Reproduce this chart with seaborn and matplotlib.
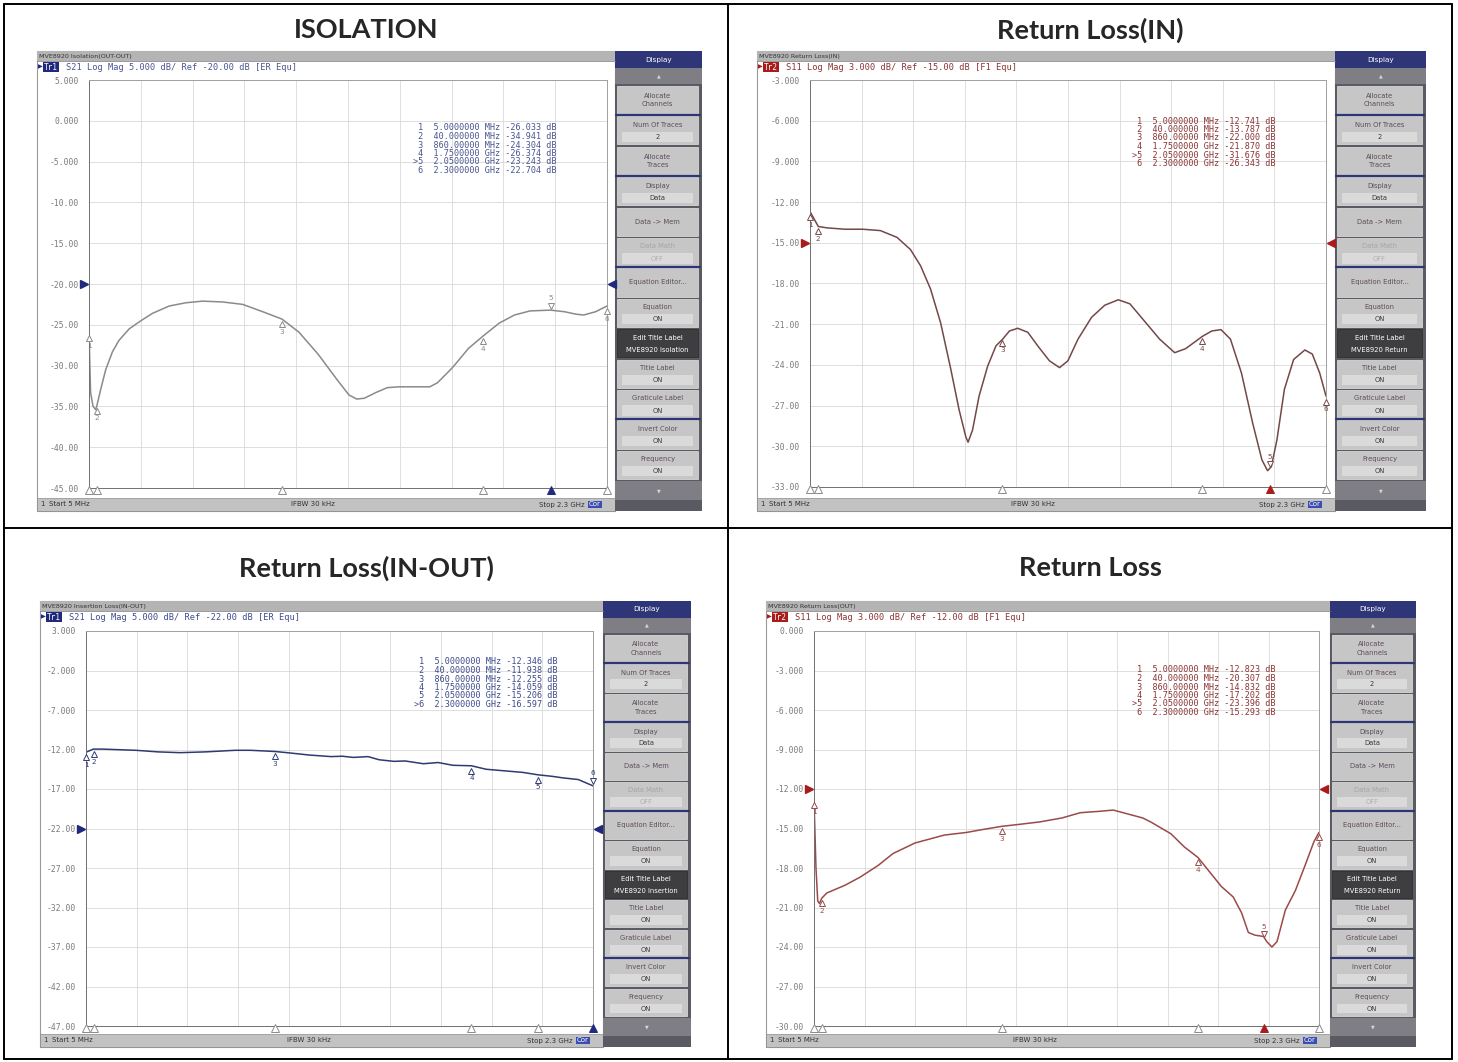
import numpy as np
import matplotlib
matplotlib.use('Agg')
import matplotlib.pyplot as plt
import matplotlib.transforms as mtrans
from matplotlib.patches import Rectangle
import seaborn as sns

sns.set_style('white')
plt.rcParams['font.family'] = ['DejaVu Sans']

W, H = 1458, 1062

# marker frequencies (MHz), same six markers on every screen
marker_freq = [5, 40, 860, 1750, 2050, 2300]

# ISOLATION, S21 (OUT-OUT)
iso_freq = [5, 12, 23, 35, 40, 57, 79, 109, 138, 183, 235, 286, 360, 434, 508, 597,
            686, 775, 860, 935, 1020, 1106, 1157, 1191, 1225, 1276, 1327, 1379, 1447,
            1515, 1549, 1617, 1686, 1750, 1822, 1890, 1959, 2050, 2112, 2163, 2197,
            2249, 2300]
iso_db = [-26.0, -33.3, -35.0, -35.4, -34.9, -32.9, -30.5, -28.3, -26.9, -25.5,
          -24.5, -23.6, -22.7, -22.3, -22.1, -22.2, -22.5, -23.4, -24.3, -25.9,
          -28.6, -31.8, -33.6, -34.1, -34.0, -33.3, -32.7, -32.6, -32.6, -32.6,
          -32.1, -30.2, -27.9, -26.4, -24.8, -23.8, -23.3, -23.2, -23.4, -23.7,
          -23.8, -23.4, -22.7]
iso_marker_db = [-26.033, -34.941, -24.304, -26.374, -23.243, -22.704]

# Return Loss(IN), S11
rlin_freq = [5, 42, 81, 161, 240, 318, 392, 452, 497, 541, 586, 631, 668, 698, 708,
             728, 757, 795, 832, 862, 892, 929, 974, 1018, 1070, 1115, 1152, 1197,
             1257, 1316, 1376, 1428, 1494, 1560, 1627, 1676, 1750, 1792, 1833, 1875,
             1924, 1974, 2015, 2040, 2057, 2082, 2115, 2156, 2206, 2239, 2272, 2300]
rlin_db = [-12.7, -13.8, -13.9, -14.0, -14.0, -14.1, -14.6, -15.5, -16.7, -18.4,
           -20.9, -24.3, -27.3, -29.3, -29.7, -28.8, -26.3, -24.1, -22.6, -22.1,
           -21.5, -21.3, -21.6, -22.6, -23.7, -24.2, -23.7, -22.1, -20.5, -19.6,
           -19.2, -19.5, -20.8, -22.1, -23.1, -22.8, -21.9, -21.5, -21.4, -22.1,
           -24.6, -28.3, -31.0, -31.8, -31.5, -29.5, -25.8, -23.6, -22.9, -23.2,
           -24.6, -26.3]
rlin_marker_db = [-12.741, -13.787, -22.000, -21.870, -31.676, -26.343]

# insertion loss IN-OUT, S21
il_freq = [5, 38, 80, 230, 330, 431, 547, 681, 748, 860, 915, 1015, 1115, 1165,
           1215, 1282, 1332, 1399, 1449, 1532, 1599, 1666, 1750, 1816, 1899, 1983,
           2050, 2116, 2166, 2233, 2300]
il_db = [-12.35, -11.95, -11.95, -12.1, -12.3, -12.4, -12.3, -12.1, -12.1, -12.25,
         -12.4, -12.7, -12.9, -12.85, -13.0, -12.9, -13.3, -13.5, -13.45, -13.8,
         -13.65, -14.0, -14.06, -14.5, -14.7, -14.9, -15.2, -15.4, -15.6, -15.8, -16.6]
il_marker_db = [-12.346, -11.938, -12.255, -14.059, -15.206, -16.597]

# Return Loss(OUT), S11
rlout_freq = [5, 14, 22, 30, 40, 63, 147, 214, 297, 364, 464, 597, 698, 764, 860,
              931, 1031, 1132, 1215, 1298, 1365, 1432, 1499, 1535, 1627, 1688, 1750,
              1803, 1856, 1910, 1948, 1979, 2009, 2048, 2063, 2086, 2109, 2147, 2193,
              2239, 2277, 2300]
rlout_db = [-12.8, -18.0, -20.5, -20.7, -20.3, -19.9, -19.3, -18.7, -17.8, -16.9,
            -16.1, -15.5, -15.3, -15.1, -14.83, -14.7, -14.5, -14.2, -13.8, -13.7,
            -13.6, -13.9, -14.2, -14.5, -15.4, -16.4, -17.2, -18.3, -19.4, -20.2,
            -21.4, -22.9, -23.1, -23.2, -23.6, -24.0, -23.6, -21.2, -19.7, -17.7,
            -16.0, -15.3]
rlout_marker_db = [-12.823, -20.307, -14.832, -17.202, -23.396, -15.293]

titles = ['ISOLATION', 'Return Loss(IN)', 'Return Loss(IN-OUT)', 'Return Loss']
captions = ['MVE8920 Isolation(OUT-OUT)', 'MVE8920 Return Loss(IN)',
            'MVE8920 Insertion Loss(IN-OUT)', 'MVE8920 Return Loss(OUT)']

buttons = [('Allocate\nChannels', None), ('Num Of Traces', '2'), ('Allocate\nTraces', None),
           ('Display', 'Data'), ('Data -> Mem', None), ('Data Math', 'OFF'),
           ('Equation Editor...', None), ('Equation', 'ON'), ('Edit Title Label', 'EDIT'),
           ('Title Label', 'ON'), ('Graticule Label', 'ON'), ('Invert Color', 'ON'),
           ('Frequency', 'ON')]

panels = [
    dict(title_xy=(366, 30), win=(37, 51, 702, 511), plot=(89, 80, 607, 488), side_x=615,
         tr='Tr1', param='S21', scale='5.000', ref=-20.0, top=5, bottom=-45, cal='ER Equ',
         line='#8a8a8a', text='#4a5590', badge='#1f2a7c',
         freq=iso_freq, db=iso_db, mdb=iso_marker_db, active=4,
         table_xy=(413, 128), edit='MVE8920 Isolation'),
    dict(title_xy=(1090, 30), win=(757, 51, 1426, 511), plot=(810, 80, 1326, 487), side_x=1335,
         tr='Tr2', param='S11', scale='3.000', ref=-15.0, top=-3, bottom=-33, cal='F1 Equ',
         line='#744848', text='#8b3434', badge='#a81c1c',
         freq=rlin_freq, db=rlin_db, mdb=rlin_marker_db, active=4,
         table_xy=(1132, 121), edit='MVE8920 Return'),
    dict(title_xy=(366, 568), win=(40, 601, 691, 1047), plot=(86, 631, 593, 1026), side_x=603,
         tr='Tr1', param='S21', scale='5.000', ref=-22.0, top=3, bottom=-47, cal='ER Equ',
         line='#2e3a72', text='#3d4b8c', badge='#1f2a7c',
         freq=il_freq, db=il_db, mdb=il_marker_db, active=5,
         table_xy=(414, 662), edit='MVE8920 Insertion'),
    dict(title_xy=(1090, 568), win=(766, 601, 1416, 1047), plot=(814, 631, 1319, 1026), side_x=1330,
         tr='Tr2', param='S11', scale='3.000', ref=-12.0, top=0, bottom=-30, cal='F1 Equ',
         line='#9a4a4a', text='#8b3434', badge='#a81c1c',
         freq=rlout_freq, db=rlout_db, mdb=rlout_marker_db, active=4,
         table_xy=(1132, 670), edit='MVE8920 Return'),
]

MONO = 'DejaVu Sans Mono'


def fmt_tick(v):
    return f"{v:.3f}" if abs(v) < 10 else f"{v:.2f}"


def fmt_freq(f):
    if f < 1000:
        v, unit = f, 'MHz'
    else:
        v, unit = f / 1000, 'GHz'
    nd = 8 - len(str(int(v)))
    return f"{v:.{nd}f} {unit}"


fig = plt.figure(figsize=(W / 100, H / 100), dpi=100)
bg = fig.add_axes([0, 0, 1, 1])
bg.set_xlim(0, W)
bg.set_ylim(H, 0)
bg.axis('off')

# overlay for text that sits on top of the graticules
fg = fig.add_axes([0, 0, 1, 1], zorder=10)
fg.set_xlim(0, W)
fg.set_ylim(H, 0)
fg.axis('off')
fg.patch.set_alpha(0)

# table grid
for x in [4, 728, 1452]:
    bg.plot([x, x], [4, 1059], color='black', lw=1.4)
for y in [4, 528, 1059]:
    bg.plot([4, 1452], [y, y], color='black', lw=1.4)


def draw_sidebar(x0, y0, x1, y1, edit_value):
    h = y1 - y0
    w = x1 - x0
    cx = (x0 + x1) / 2
    bg.add_patch(Rectangle((x0, y0), w, h, fc='#5a5a62', ec='none'))
    hh = 0.037 * h
    bg.add_patch(Rectangle((x0, y0), w, hh, fc='#2f3677', ec='none'))
    bg.text(cx, y0 + hh / 2, 'Display', color='white', fontsize=5.2, ha='center', va='center')
    ah = 0.034 * h
    bg.add_patch(Rectangle((x0, y0 + hh), w, ah, fc='#7e7e84', ec='none'))
    bg.text(cx, y0 + hh + ah / 2, '▲', color='#d8d8d8', fontsize=3.5, ha='center', va='center')
    start = y0 + 0.076 * h
    pitch = 0.0661 * h
    bh = pitch - 0.005 * h
    for i, (label, value) in enumerate(buttons):
        yb = start + i * pitch
        dark = label == 'Edit Title Label'
        grey = label == 'Data Math'
        bg.add_patch(Rectangle((x0 + 2, yb), w - 6, bh, fc='#3e3e40' if dark else '#c6c6c6',
                               ec='#e6e6e6' if not dark else '#2a2a2a', lw=0.5))
        tc = 'white' if dark else ('#a6a6a6' if grey else '#5c4c58')
        if value is None:
            bg.text(cx - 1, yb + bh / 2, label, color=tc, fontsize=4.9, ha='center',
                    va='center', linespacing=1.5)
        else:
            bg.text(cx - 1, yb + 0.3 * bh, label, color=tc, fontsize=4.9, ha='center', va='center')
            if not dark:
                bg.add_patch(Rectangle((x0 + 7, yb + 0.55 * bh), w - 16, 0.36 * bh,
                                       fc='#dadada', ec='none'))
            val = edit_value if value == 'EDIT' else value
            vc = 'white' if dark else ('#b0b0b0' if grey else '#3a3a3a')
            bg.text(cx - 1, yb + 0.73 * bh, val, color=vc, fontsize=4.9, ha='center', va='center')
        if i in (0, 2, 5, 10):
            ys = yb + bh + (pitch - bh) / 2
            bg.plot([x0 + 1, x1 - 2], [ys, ys], color='#2f3677', lw=1.6)
    yb = start + len(buttons) * pitch
    bg.add_patch(Rectangle((x0, yb), w, 0.04 * h, fc='#7e7e84', ec='none'))
    bg.text(cx, yb + 0.02 * h, '▼', color='#d8d8d8', fontsize=3.5, ha='center', va='center')


for k, p in enumerate(panels):
    x0, y0, x1, y1 = p['win']
    sx = p['side_x']
    bg.text(p['title_xy'][0], p['title_xy'][1], titles[k], fontsize=19.5, fontweight='bold',
            family=['Lato', 'DejaVu Sans'], ha='center', va='center')
    # screen
    bg.add_patch(Rectangle((x0, y0), sx - x0, y1 - y0, fc='white', ec='#9a9a9a', lw=0.8))
    bg.add_patch(Rectangle((x0, y0), sx - x0, 10, fc='#b4b4b4', ec='none'))
    bg.plot([x0, sx], [y0 + 10, y0 + 10], color='#8a8a8a', lw=0.6)
    bg.text(x0 + 2, y0 + 5.5, captions[k], fontsize=4.6, color='#333333', va='center', ha='left')
    # header line
    hy = y0 + 16
    bg.text(x0 + 1, hy, '▶', fontsize=4.5, color=p['badge'], va='center', ha='left')
    bg.text(x0 + 7, hy, p['tr'], fontsize=5.6, family=MONO, color='white', va='center', ha='left',
            bbox=dict(fc=p['badge'], ec='none', pad=0.6))
    bg.text(x0 + 29, hy, f"{p['param']} Log Mag {p['scale']} dB/ Ref {p['ref']:.2f} dB [{p['cal']}]",
            fontsize=6.2, family=MONO, color=p['text'], va='center', ha='left')
    # status bar
    bg.add_patch(Rectangle((x0, y1 - 13), sx - x0, 13, fc='#c2c2c2', ec='#8a8a8a', lw=0.5))
    sy = y1 - 6.5
    bg.text(x0 + 3, sy, '1', fontsize=5, color='#333333', va='center')
    bg.text(x0 + 12, sy, 'Start 5 MHz', fontsize=5, color='#333333', va='center')
    bg.text(x0 + 0.477 * (sx - x0), sy, 'IFBW 30 kHz', fontsize=5, color='#333333',
            va='center', ha='center')
    bg.text(sx - 30, sy, 'Stop 2.3 GHz', fontsize=5, color='#333333', va='center', ha='right')
    bg.text(sx - 20, sy, 'Cor', fontsize=5, color='white', va='center', ha='center',
            bbox=dict(fc='#3a4db0', ec='none', pad=0.5))
    draw_sidebar(sx, y0, x1, y1, p['edit'])

    # marker table
    tx, ty = p['table_xy']
    for i, (f, v) in enumerate(zip(marker_freq, p['mdb'])):
        pfx = f">{i + 1}" if i == p['active'] else f" {i + 1}"
        fg.text(tx, ty + i * 8.5, f"{pfx}  {fmt_freq(f)} {v:.3f} dB", fontsize=6.1,
                family=MONO, color=p['text'], va='center', ha='left')

    # the trace graticule
    l, t, r, b = p['plot']
    ax = fig.add_axes([l / W, 1 - b / H, (r - l) / W, (b - t) / H])
    ax.set_facecolor('white')
    sns.lineplot(x=p['freq'], y=p['db'], ax=ax, color=p['line'], linewidth=1.1, legend=False)
    ax.set_xlim(5, 2300)
    ax.set_ylim(p['bottom'], p['top'])
    yt = np.linspace(p['top'], p['bottom'], 11)
    ax.set_yticks(yt)
    ax.set_yticklabels([fmt_tick(v) for v in yt], family=MONO, fontsize=5.8, color='#7a7a7a')
    ax.set_xticks(np.linspace(5, 2300, 11))
    ax.set_xticklabels([])
    ax.tick_params(length=0, pad=7)
    ax.grid(True, color='#d9d9d9', lw=0.6)
    ax.set_xlabel('')
    ax.set_ylabel('')
    for s in ax.spines.values():
        s.set_color('#a0a0a0')
        s.set_linewidth(0.7)
    ax.spines['left'].set_color('#707070')
    ax.spines['bottom'].set_color('#707070')

    # reference level arrows
    bt = mtrans.blended_transform_factory(ax.transAxes, ax.transData)
    ax.plot([-0.009], [p['ref']], marker='>', ms=6, color=p['badge'], transform=bt, clip_on=False)
    ax.plot([1.009], [p['ref']], marker='<', ms=6, color=p['badge'], transform=bt, clip_on=False)

    # marker triangles along the bottom
    bx = mtrans.blended_transform_factory(ax.transData, ax.transAxes)
    for i, f in enumerate(marker_freq):
        act = i == p['active']
        ax.plot([f], [-0.006], marker='^', ms=6, mec=p['badge'] if act else '#8a8a8a',
                mfc=p['badge'] if act else 'white', mew=0.7, transform=bx, clip_on=False, zorder=5)

    # markers on the trace
    for i, (f, v) in enumerate(zip(marker_freq, p['mdb'])):
        act = i == p['active']
        sgn = 1 if act else -1
        tri = mtrans.offset_copy(ax.transData, fig=fig, y=sgn * 3.5, units='points')
        num = mtrans.offset_copy(ax.transData, fig=fig, y=sgn * 9, units='points')
        ax.plot([f], [v], marker='v' if act else '^', ms=4.5, mfc='white', mec=p['line'],
                mew=0.7, transform=tri, clip_on=False, zorder=6)
        ax.text(f, v, str(i + 1), transform=num, fontsize=5.2, color=p['line'],
                ha='center', va='center', zorder=6)

fig.savefig('out.png', dpi=100)
